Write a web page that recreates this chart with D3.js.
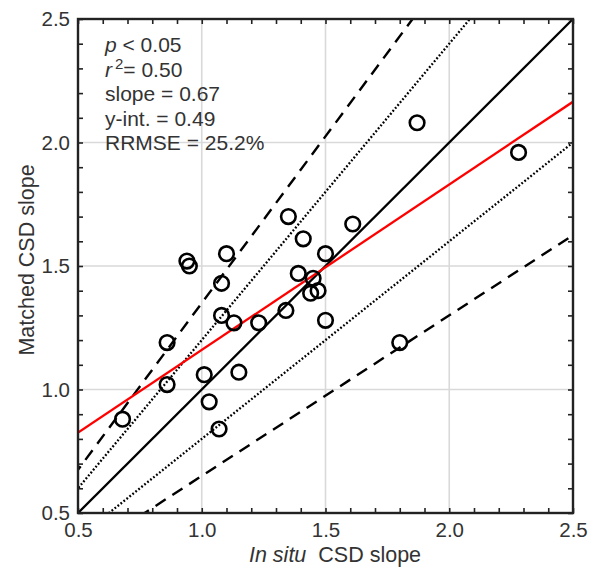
<!DOCTYPE html>
<html>
<head>
<meta charset="utf-8">
<script src="https://cdn.jsdelivr.net/npm/d3@7"></script>
<style>
  body { margin: 0; background: #fff; }
  text { font-family: "Liberation Sans", Arial, sans-serif; fill: #333; }
</style>
</head>
<body>
<svg id="chart" width="590" height="581"></svg>
<script>
// data
let inSitu  = [0.68, 0.86, 0.86, 0.94, 0.95, 1.01, 1.03, 1.07, 1.08, 1.10, 1.08, 1.13, 1.15,
               1.23, 1.34, 1.35, 1.41, 1.39, 1.45, 1.44, 1.47, 1.50, 1.50, 1.61, 1.80, 1.87, 2.28];
let matched = [0.88, 1.19, 1.02, 1.52, 1.50, 1.06, 0.95, 0.84, 1.43, 1.55, 1.30, 1.27, 1.07,
               1.27, 1.32, 1.70, 1.61, 1.47, 1.45, 1.39, 1.40, 1.28, 1.55, 1.67, 1.19, 2.08, 1.96];

let fitSlope = 0.67;
let fitIntercept = 0.49;
let dottedFactors = [1.2, 0.8];
let dashedFactors = [1.35, 0.65];

let axisDomain = [0.5, 2.5];
let tickLabels = ["0.5", "1.0", "1.5", "2.0", "2.5"];
let gridValues = [1.0, 1.5, 2.0];

let statLines = [
  ["p", " < 0.05"],
  ["r", "2", "= 0.50"],
  ["", "slope = 0.67"],
  ["", "y-int. = 0.49"],
  ["", "RRMSE = 25.2%"]
];

const margin = {left: 78, top: 19};
const width = 495, height = 494;

const svg = d3.select("#chart");
const g = svg.append("g").attr("transform", `translate(${margin.left},${margin.top})`);

let xScale = d3.scaleLinear().domain(axisDomain).range([0, width]);
let yScale = d3.scaleLinear().domain(axisDomain).range([height, 0]);

svg.append("defs").append("clipPath").attr("id", "plotClip")
  .append("rect").attr("width", width).attr("height", height);

// grid
g.selectAll(".gx").data(gridValues).join("line")
  .attr("x1", d => xScale(d)).attr("x2", d => xScale(d))
  .attr("y1", 0).attr("y2", height)
  .attr("stroke", "#d9d9d9").attr("stroke-width", 1.6);
g.selectAll(".gy").data(gridValues).join("line")
  .attr("y1", d => yScale(d)).attr("y2", d => yScale(d))
  .attr("x1", 0).attr("x2", width)
  .attr("stroke", "#d9d9d9").attr("stroke-width", 1.6);

// reference lines
let plot = g.append("g").attr("clip-path", "url(#plotClip)");
let xs = [0, 3];
function drawLine(f, color, dash, w) {
  let line = d3.line().x(d => xScale(d)).y(d => yScale(f(d)));
  plot.append("path")
    .attr("d", line(xs))
    .attr("fill", "none")
    .attr("stroke", color)
    .attr("stroke-width", w)
    .attr("stroke-dasharray", dash);
}
dashedFactors.forEach(k => drawLine(d => d * k, "#000", "12,8", 2.4));
dottedFactors.forEach(k => drawLine(d => d * k, "#000", "1.8,2", 2.3));
drawLine(d => d, "#000", null, 2.3);
drawLine(d => fitSlope * d + fitIntercept, "#ff0000", null, 2.3);

// points
let points = inSitu.map((d, i) => ({x: d, y: matched[i]}));
plot.selectAll("circle").data(points).join("circle")
  .attr("cx", d => xScale(d.x))
  .attr("cy", d => yScale(d.y))
  .attr("r", 7.3)
  .attr("fill", "none")
  .attr("stroke", "#000")
  .attr("stroke-width", 2.6);

// axes with inward ticks every 0.1
let minorTicks = d3.range(5, 26).map(d => d / 10);
let fmt = d => tickLabels[Math.round((d - 0.5) * 2)];

let xAxis = g.append("g").attr("transform", `translate(0,${height})`)
  .call(d3.axisBottom(xScale).tickValues(minorTicks).tickSizeInner(-5).tickSizeOuter(0)
    .tickFormat(d => (Math.round(d * 10) % 5 === 0) ? fmt(d) : ""));
let yAxis = g.append("g")
  .call(d3.axisLeft(yScale).tickValues(minorTicks).tickSizeInner(-5).tickSizeOuter(0)
    .tickFormat(d => (Math.round(d * 10) % 5 === 0) ? fmt(d) : ""));
g.append("g").call(d3.axisTop(xScale).tickValues(minorTicks).tickSizeInner(-5).tickSizeOuter(0).tickFormat(""));
g.append("g").attr("transform", `translate(${width},0)`)
  .call(d3.axisRight(yScale).tickValues(minorTicks).tickSizeInner(-5).tickSizeOuter(0).tickFormat(""));

g.selectAll(".tick line").attr("stroke", "#222").attr("stroke-width", 1.6);
g.selectAll(".domain").remove();
xAxis.selectAll("text").attr("font-size", 20.5).attr("fill", "#333").attr("dy", "1.0em");
yAxis.selectAll("text").attr("font-size", 20.5).attr("fill", "#333").attr("x", -8);

// frame
g.append("rect").attr("width", width).attr("height", height)
  .attr("fill", "none").attr("stroke", "#222").attr("stroke-width", 2.4);

// axis titles
let xt = svg.append("text").attr("x", 335).attr("y", 562)
  .attr("text-anchor", "middle").attr("font-size", 21.5);
xt.append("tspan").attr("font-style", "italic").text("In situ");
xt.append("tspan").text("\u00a0 CSD slope");

svg.append("text")
  .attr("transform", "translate(34,260) rotate(-90)")
  .attr("text-anchor", "middle").attr("font-size", 21.5)
  .text("Matched CSD slope");

// stats block
let stats = g.append("g").attr("transform", "translate(27,0)");
statLines.forEach((s, i) => {
  let t = stats.append("text").attr("y", 33 + i * 24.5).attr("font-size", 21).attr("fill", "#111");
  if (s.length === 3) {
    t.append("tspan").attr("font-style", "italic").text(s[0]);
    t.append("tspan").attr("font-size", 15).attr("dy", -8).attr("dx", 3).text(s[1]);
    t.append("tspan").attr("dy", 8).text(s[2]);
  } else {
    if (s[0]) t.append("tspan").attr("font-style", "italic").text(s[0]);
    t.append("tspan").text(s[1]);
  }
});
</script>
</body>
</html>
